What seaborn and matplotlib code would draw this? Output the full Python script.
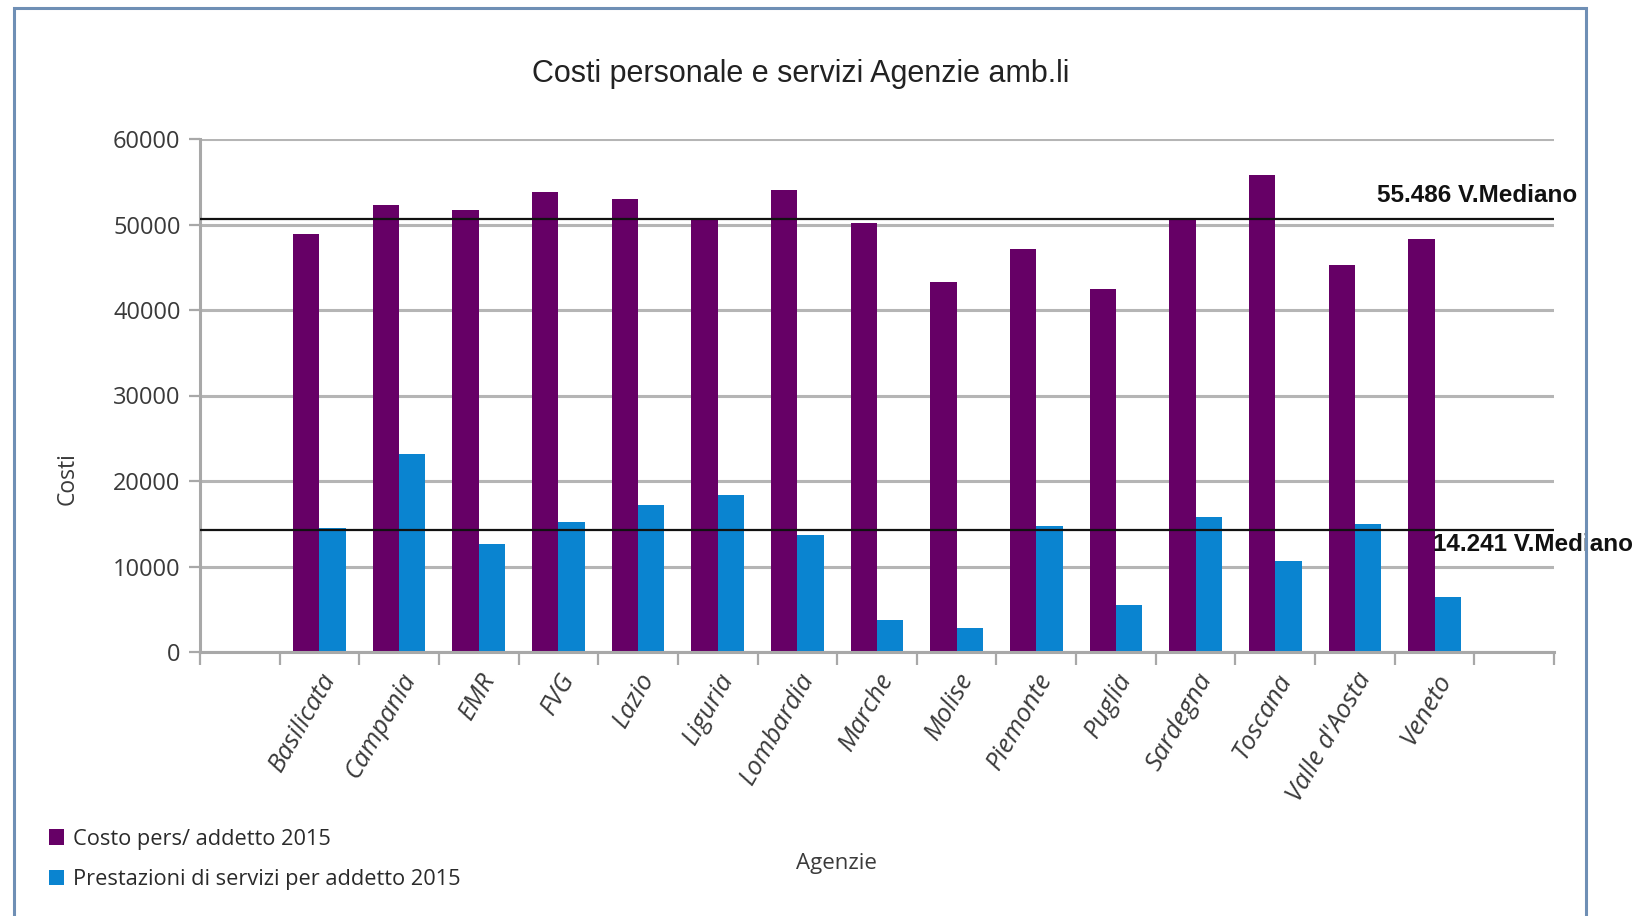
import matplotlib
matplotlib.use("Agg")
import matplotlib.pyplot as plt
from matplotlib.patches import Rectangle
from matplotlib.ticker import FixedLocator, NullFormatter
import seaborn as sns
import pandas as pd
import numpy as np

agenzie = ["Basilicata", "Campania", "EMR", "FVG", "Lazio", "Liguria", "Lombardia",
           "Marche", "Molise", "Piemonte", "Puglia", "Sardegna", "Toscana",
           "Valle d'Aosta", "Veneto"]
costo_pers = [48870, 52250, 51710, 53770, 52950, 50680, 53980,
              50140, 43300, 47090, 42470, 50680, 55840, 45320, 48330]
prestazioni = [14510, 23180, 12660, 15260, 17200, 18310, 13690,
               3790, 2760, 14720, 5520, 15750, 10680, 14930, 6470]
serie = ["Costo pers/ addetto 2015", "Prestazioni di servizi per addetto 2015"]
colori = ["#660066", "#0a84d0"]
y_ticks = [0, 10000, 20000, 30000, 40000, 50000, 60000]
mediana_costo_linea = 50700
mediana_serv_linea = 14241
mediana_costo_testo = "55.486 V.Mediano"
mediana_serv_testo = "14.241 V.Mediano"

df = pd.DataFrame({
    "Agenzie": agenzie * 2,
    "Costi": costo_pers + prestazioni,
    "Serie": [serie[0]] * len(agenzie) + [serie[1]] * len(agenzie),
})

sns.set_theme(style="white")
plt.rcParams['font.family'] = ['Open Sans', 'DejaVu Sans']

W, H = 1649, 916
fig = plt.figure(figsize=(W / 100, H / 100), dpi=100)
ax = fig.add_axes([200 / W, 1 - 652 / H, (1554 - 200) / W, (652 - 139) / H])

sns.barplot(data=df, x="Agenzie", y="Costi", hue="Serie", order=agenzie,
            hue_order=serie, palette=colori, width=0.66, saturation=1,
            edgecolor="none", linewidth=0, ax=ax, legend=True)

n = len(agenzie)
ax.set_xlim(-1.5, n + 0.5)
ax.set_ylim(0, 60000)
ax.set_yticks(y_ticks)
ax.set_yticklabels([str(v) for v in y_ticks], fontsize=17, color="#3a3a3a")
ax.yaxis.grid(True, color="#b5b5b5", linewidth=2.2)
ax.xaxis.grid(False)
ax.set_axisbelow(True)

ax.set_xticks(range(n))
ax.set_xticklabels(agenzie, rotation=60, ha="right", rotation_mode="anchor",
                   fontsize=18.5, style="italic", color="#3a3a3a")
ax.tick_params(axis="x", which="major", length=0, pad=12)
ax.xaxis.set_minor_locator(FixedLocator(np.arange(-1.5, n + 0.6, 1.0)))
ax.xaxis.set_minor_formatter(NullFormatter())
ax.tick_params(axis="x", which="minor", length=9, width=1.6, color="#a8a8a8",
               bottom=True)
ax.tick_params(axis="y", length=8, width=1.6, color="#a8a8a8", left=True, pad=6)

for s in ["top", "right"]:
    ax.spines[s].set_visible(False)
for s in ["left", "bottom"]:
    ax.spines[s].set_color("#a8a8a8")
    ax.spines[s].set_linewidth(2.2)

ax.axhline(mediana_costo_linea, color="#111111", linewidth=1.6, zorder=5)
ax.axhline(mediana_serv_linea, color="#111111", linewidth=1.6, zorder=5)

try_narrow = ['Liberation Sans Narrow', 'Liberation Sans', 'DejaVu Sans']
ax.annotate(mediana_costo_testo, xy=(1.0175, mediana_costo_linea),
            xycoords=("axes fraction", "data"), xytext=(0, 8),
            textcoords="offset points", ha="right", va="bottom",
            fontsize=17.5, fontweight="bold", color="#111111", family=try_narrow,
            annotation_clip=False)
ax.annotate(mediana_serv_testo, xy=(1.0585, mediana_serv_linea),
            xycoords=("axes fraction", "data"), xytext=(0, -2),
            textcoords="offset points", ha="right", va="top",
            fontsize=17.5, fontweight="bold", color="#111111", family=try_narrow,
            annotation_clip=False)

ax.set_xlabel("")
ax.set_ylabel("")
fig.text(68 / W, 1 - 479 / H, "Costi", rotation=90, ha="center", va="center",
         fontsize=16.5, color="#3a3a3a")
fig.text(836 / W, 1 - 864 / H, "Agenzie", ha="center", va="center",
         fontsize=16, color="#3a3a3a")
fig.text(801 / W, 1 - 74 / H, "Costi personale e servizi Agenzie amb.li",
         ha="center", va="center", fontsize=22, color="#222222", family=try_narrow)

leg = ax.legend(loc="upper left", bbox_to_anchor=(40 / W, 1 - 820 / H),
                bbox_transform=fig.transFigure, frameon=False, fontsize=15.7,
                handlelength=0.7, handleheight=0.7, handletextpad=0.4,
                labelspacing=0.9, borderaxespad=0)
for t in leg.get_texts():
    t.set_color("#2a2a2a")

fig.patches.append(Rectangle((14 / W, -0.02), (1586 - 14) / W, 1 - 8 / H + 0.02,
                             transform=fig.transFigure, fill=False,
                             edgecolor="#6f8fb5", linewidth=2.2))

fig.savefig("out.png", dpi=100)
